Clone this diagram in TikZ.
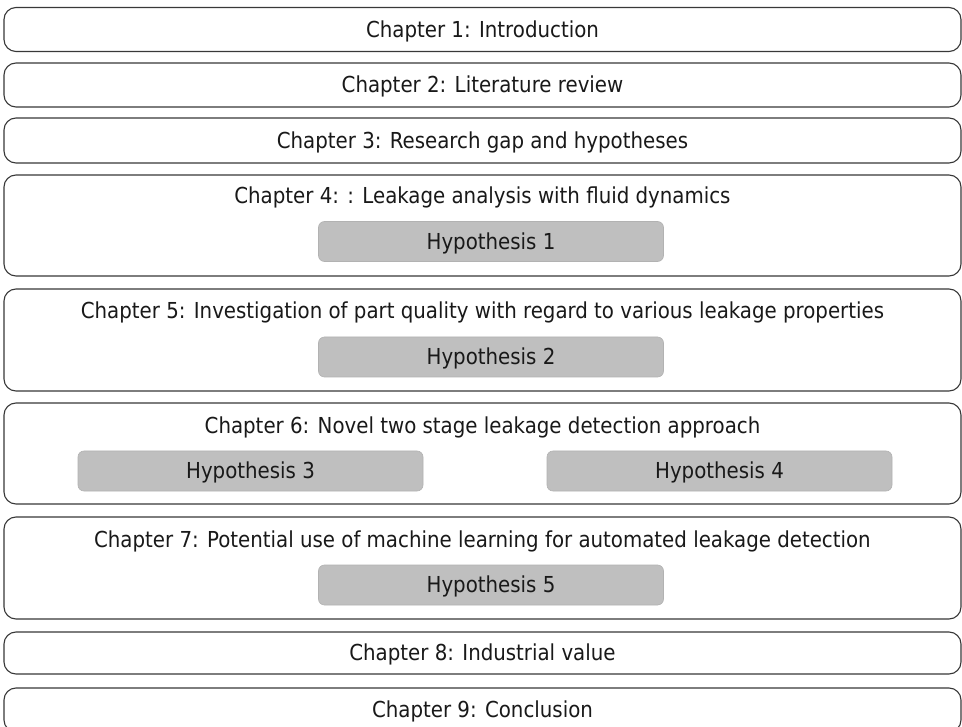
\documentclass[tikz,border=0pt]{standalone}
\usepackage{fontspec}
\setmainfont{DejaVu Sans Condensed}
\begin{document}
\begin{tikzpicture}[x=1pt,y=-1pt,
  txt/.style={font=\fontsize{22}{26}\selectfont, text=black!90, text height=18pt, text depth=2.2pt, inner sep=0pt},
  chapbox/.style={draw=black!78, line width=1.1pt, rounded corners=12pt, minimum width=957pt, inner sep=0pt, fill=white},
  hypbox/.style={txt, fill=black!25, draw=black!30, line width=0.6pt, rounded corners=6pt, minimum width=345pt, minimum height=40pt}]
\clip (0,0) rectangle (962,727);
\fill[white] (0,0) rectangle (962,727);
% simple chapters
\node[chapbox, txt, minimum height=44pt] (c1) at (482.5,29.5) {Chapter 1: Introduction};
\node[chapbox, txt, minimum height=44pt] (c2) at (482.5,85) {Chapter 2: Literature review};
\node[chapbox, txt, minimum height=45pt] (c3) at (482.5,140.5) {Chapter 3: Research gap and hypotheses};
% chapter 4
\node[chapbox, minimum height=101pt] (c4) at (482.5,225.5) {};
\node[txt] (t4) at (482.5,196) {Chapter 4: : Leakage analysis with fluid dynamics};
\node[hypbox] (h1) at (491,241.5) {Hypothesis 1};
% chapter 5
\node[chapbox, minimum height=102pt] (c5) at (482.5,340) {};
\node[txt] (t5) at (482.5,311) {Chapter 5: Investigation of part quality with regard to various leakage properties};
\node[hypbox] (h2) at (491,357) {Hypothesis 2};
% chapter 6
\node[chapbox, minimum height=101pt] (c6) at (482.5,453.5) {};
\node[txt] (t6) at (482.5,426) {Chapter 6: Novel two stage leakage detection approach};
\node[hypbox] (h3) at (250.5,471) {Hypothesis 3};
\node[hypbox] (h4) at (719.5,471) {Hypothesis 4};
% chapter 7
\node[chapbox, minimum height=102pt] (c7) at (482.5,568) {};
\node[txt] (t7) at (482.5,540) {Chapter 7: Potential use of machine learning for automated leakage detection};
\node[hypbox] (h5) at (491,585) {Hypothesis 5};
% chapters 8, 9
\node[chapbox, txt, minimum height=42pt] (c8) at (482.5,653) {Chapter 8: Industrial value};
\node[chapbox, txt, minimum height=44pt] (c9) at (482.5,710) {Chapter 9: Conclusion};
\end{tikzpicture}
\end{document}
